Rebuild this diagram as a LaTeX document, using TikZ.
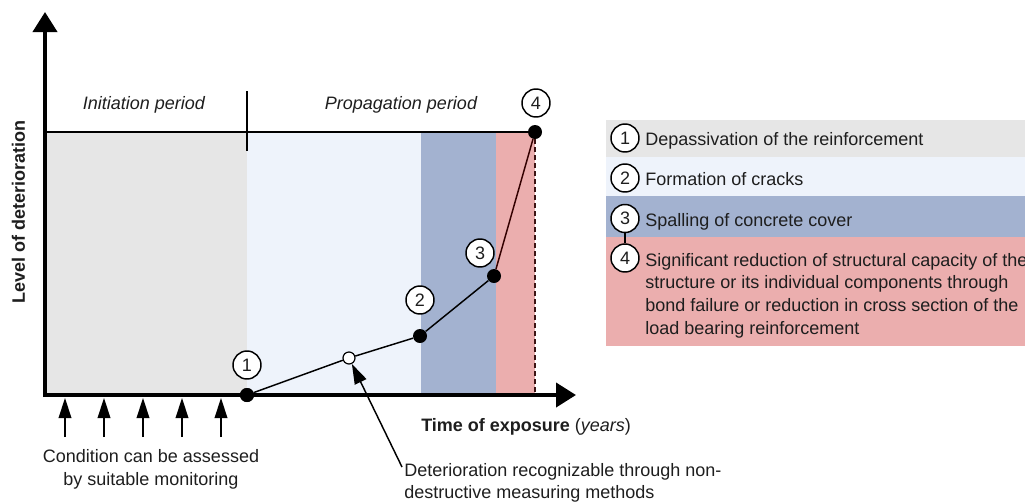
\documentclass[tikz,border=0pt]{standalone}
\usepackage{fontspec}
\setmainfont{Liberation Sans}
\usetikzlibrary{arrows.meta}
\definecolor{cgray}{RGB}{230,230,230}
\definecolor{clblue}{RGB}{238,243,251}
\definecolor{cblue}{RGB}{163,178,208}
\definecolor{cred}{RGB}{235,174,174}
\definecolor{ctext}{RGB}{30,30,30}
\definecolor{cdash}{RGB}{60,20,20}
\begin{document}
\begin{tikzpicture}[x=0.75pt,y=-0.75pt,
  every node/.style={font=\fontsize{13.5}{17}\selectfont, text=ctext},
  dot/.style={circle, fill=black, inner sep=0pt, minimum size=10.5pt},
  opendot/.style={circle, draw=black, fill=white, line width=0.9pt, inner sep=0pt, minimum size=9pt},
  numc/.style={circle, draw=black, fill=white, line width=1.1pt, inner sep=0pt, minimum size=21pt},
  axisline/.style={line width=3pt, -{Triangle[length=15pt,width=18pt]}},
  thinline/.style={line width=1.1pt},
  ptr/.style={line width=1.1pt, -{Triangle[length=15pt,width=9.5pt]}},
  lbl/.style={inner sep=0pt, anchor=base west},
]
\useasboundingbox (0,0) rectangle (1025,501);
% bands
\fill[cgray] (45,132) rectangle (247,395);
\fill[clblue] (247,132) rectangle (421,395);
\fill[cblue] (421,132) rectangle (496,395);
\fill[cred] (496,132) rectangle (535,395);
% legend bands
\fill[cgray] (606,120) rectangle (1025,157);
\fill[clblue] (606,157) rectangle (1025,196);
\fill[cblue] (606,196) rectangle (1025,237);
\fill[cred] (606,237) rectangle (1025,346);
% coordinates
\coordinate (ystart) at (45,397);
\coordinate (yend) at (45,12);
\coordinate (xstart) at (43.5,395);
\coordinate (xend) at (576,395);
\coordinate (topl) at (45,132);
\coordinate (ticka) at (247,91);
\coordinate (tickb) at (247,151);
% points
\node[dot] (p1) at (247,395) {};
\node[opendot] (q) at (349,358) {};
\node[dot] (p2) at (420,336) {};
\node[dot] (p3) at (494,276) {};
\node[dot] (p4) at (535,132) {};
% lines
\draw[thinline] (topl) -- (p4);
\draw[thinline] (ticka) -- (tickb);
\draw[thinline] (p1) -- (q) -- (p2) -- (p3);
\draw[thinline, black!80!red] (p3) -- (p4);
\draw[cdash, line width=1.8pt, dash pattern=on 3.8pt off 2.2pt] (p4) -- (p4 |- xend);
\draw[axisline] (ystart) -- (yend);
\draw[axisline] (xstart) -- (xend);
\node[dot] at (p1) {};
% number circles
\node[numc] (c1) at (247,365) {1};
\node[numc] (c2) at (420,300) {2};
\node[numc] (c3) at (480,253) {3};
\node[numc] (c4) at (536,103) {4};
% labels
\node[anchor=base] (init) at (144,109) {\itshape Initiation period};
\node[anchor=base] (prop) at (401,109) {\itshape Propagation period};
\node[rotate=90, font=\fontsize{13.5}{17}\selectfont\bfseries] (ylab) at (18.5,212) {Level of deterioration};
\node[lbl] (xlab) at (421,431) {\textbf{Time of exposure} (\textit{years})};
% monitoring arrows
\foreach \i/\x in {1/65,2/104,3/143,4/182,5/221}{
  \coordinate (ms\i) at (\x,437);
  \coordinate (mt\i) at (\x,398);
  \draw[ptr] (ms\i) -- (mt\i);
}
\node[align=center, anchor=north, inner sep=0pt] (cond) at (151,449.5) {Condition can be assessed\\by suitable monitoring};
\node[align=left, anchor=north west, inner sep=0pt] (det) at (404,463) {Deterioration recognizable through non-\\destructive measuring methods};
\coordinate (detl) at (402,467);
\draw[ptr] (detl) -- (q);
% legend
\node[numc] (l1) at (625,138) {1};
\node[lbl] (t1) at (645,145.5) {Depassivation of the reinforcement};
\node[numc] (l2) at (625,178) {2};
\node[lbl] (t2) at (645,185) {Formation of cracks};
\node[numc] (l3) at (625,218.5) {3};
\node[lbl] (t3) at (645,226) {Spalling of concrete cover};
\node[numc] (l4) at (625,258) {4};
\draw[line width=0.8pt] (l3.south) -- (l4.north);
\node[lbl, align=left, anchor=north west] (t4) at (645,253) {Significant reduction of structural capacity of the\\structure or its individual components through\\bond failure or reduction in cross section of the\\load bearing reinforcement};
\end{tikzpicture}
\end{document}
